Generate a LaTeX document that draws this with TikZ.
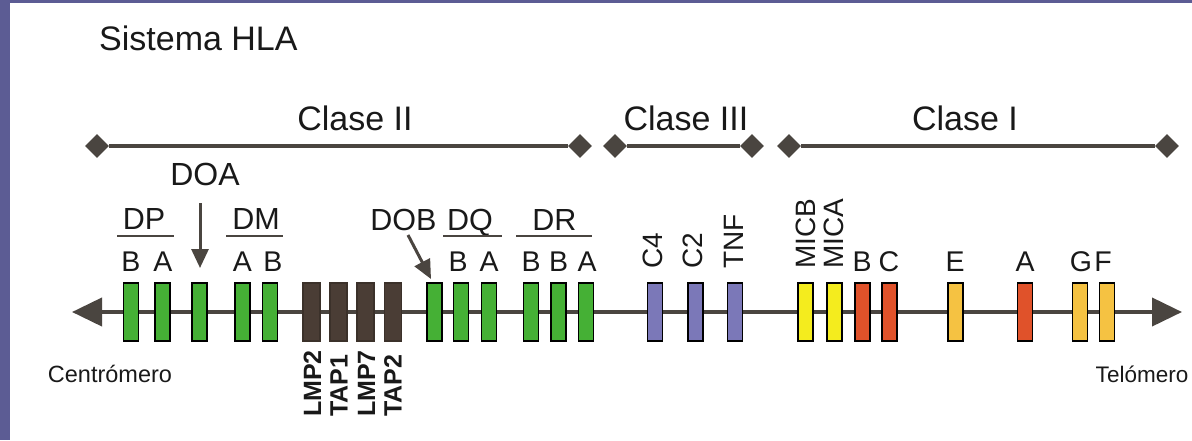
\documentclass[tikz,border=0pt]{standalone}
\usepackage{fontspec}
\setmainfont{Liberation Sans}
\usetikzlibrary{arrows.meta,shapes.geometric}
\definecolor{frameblue}{HTML}{5C5C94}
\definecolor{linegray}{HTML}{4A4540}
\definecolor{ggreen}{HTML}{45B035}
\definecolor{gdark}{HTML}{4A3D35}
\definecolor{gpurple}{HTML}{7B78B8}
\definecolor{gyellow}{HTML}{F4EC1E}
\definecolor{gred}{HTML}{E0522A}
\definecolor{gorange}{HTML}{F5C242}
\tikzset{
  gene/.style={draw=black, line width=1.2pt, minimum width=15pt, minimum height=58pt, inner sep=0pt},
  gg/.style={gene, fill=ggreen},
  gd/.style={gene, fill=gdark, minimum width=17pt, draw=gdark!80!black},
  gp/.style={gene, fill=gpurple},
  gy/.style={gene, fill=gyellow},
  gr/.style={gene, fill=gred},
  go/.style={gene, fill=gorange},
  lab/.style={inner sep=0pt, anchor=base, text=black!90, font=\fontsize{28.5}{30}\selectfont},
  grp/.style={inner sep=0pt, anchor=base, text=black!90, font=\fontsize{30.5}{32}\selectfont},
  big/.style={inner sep=0pt, anchor=base, text=black!90, font=\fontsize{34}{36}\selectfont},
  rlab/.style={inner sep=0pt, rotate=90, anchor=west, text=black!90, font=\fontsize{28}{30}\selectfont},
  blab/.style={inner sep=0pt, rotate=90, anchor=west, text=black!90, font=\bfseries\fontsize{25}{27}\selectfont},
  dia/.style={diamond, aspect=1, minimum width=24pt, minimum height=24pt, inner sep=0pt, fill=linegray},
  bracket/.style={line width=4pt, draw=linegray},
  uline/.style={line width=2.5pt, draw=linegray},
  ptr/.style={line width=3pt, draw=linegray, -{Triangle[length=19pt,width=17pt,fill=linegray]}},
  chrom/.style={line width=4pt, draw=linegray, {Triangle[length=30pt,width=28pt,fill=linegray]}-{Triangle[length=30pt,width=28pt,fill=linegray]}}
}
\begin{document}
\begin{tikzpicture}[x=1pt,y=-1pt]
% background and frame
\fill[white] (0,0) rectangle (1192,440);
\fill[frameblue] (0,0) rectangle (10,440);
\fill[frameblue] (0,0) rectangle (1192,3);
\useasboundingbox (0,0) rectangle (1192,440);

% title
\node[big, anchor=base west] (title) at (99,50) {Sistema HLA};

% class brackets
\node[big] (c2) at (355,130) {Clase II};
\node[big] (c3) at (686,130) {Clase III};
\node[big] (c1) at (965,130) {Clase I};
\node[dia] (c2l) at (97,146) {};
\node[dia] (c2r) at (580,146) {};
\node[dia] (c3l) at (615,146) {};
\node[dia] (c3r) at (752,146) {};
\node[dia] (c1l) at (789,146) {};
\node[dia] (c1r) at (1167,146) {};
\draw[bracket] (c2l) -- (c2r);
\draw[bracket] (c3l) -- (c3r);
\draw[bracket] (c1l) -- (c1r);

% chromosome
\coordinate (cen) at (72,312);
\coordinate (tel) at (1182,312);
\draw[chrom] (cen) -- (tel);

% genes
\node[gg] (g1) at (131,312) {};
\node[gg] (g2) at (162.5,312) {};
\node[gg] (g3) at (199.5,312) {};
\node[gg] (g4) at (242.5,312) {};
\node[gg] (g5) at (270,312) {};
\node[gd] (g6) at (311.5,312) {};
\node[gd] (g7) at (338.5,312) {};
\node[gd] (g8) at (365.5,312) {};
\node[gd] (g9) at (393,312) {};
\node[gg] (g10) at (434.5,312) {};
\node[gg] (g11) at (461,312) {};
\node[gg] (g12) at (489,312) {};
\node[gg] (g13) at (531,312) {};
\node[gg] (g14) at (558.5,312) {};
\node[gg] (g15) at (586,312) {};
\node[gp] (g16) at (655,312) {};
\node[gp] (g17) at (695.5,312) {};
\node[gp] (g18) at (735,312) {};
\node[gy] (g19) at (805.5,312) {};
\node[gy] (g20) at (834.5,312) {};
\node[gr] (g21) at (862.5,312) {};
\node[gr] (g22) at (889.5,312) {};
\node[go] (g23) at (955.5,312) {};
\node[gr] (g24) at (1025,312) {};
\node[go] (g25) at (1080,312) {};
\node[go] (g26) at (1107,312) {};

% single-letter labels
\node[lab] (l1) at (131,271) {B};
\node[lab] (l2) at (163,271) {A};
\node[lab] (l4) at (242.5,271) {A};
\node[lab] (l5) at (273,271) {B};
\node[lab] (l11) at (458,271) {B};
\node[lab] (l12) at (489,271) {A};
\node[lab] (l13) at (531,271) {B};
\node[lab] (l14) at (558.5,271) {B};
\node[lab] (l15) at (587,271) {A};
\node[lab] (l21) at (862,271) {B};
\node[lab] (l22) at (889,271) {C};
\node[lab] (l23) at (955,271) {E};
\node[lab] (l24) at (1025,271) {A};
\node[lab] (l25) at (1081,271) {G};
\node[lab] (l26) at (1103,271) {F};

% group labels
\node[grp] (dp) at (144,229) {DP};
\node[grp] (dm) at (256,229) {DM};
\node[grp] (dob) at (403.5,230) {DOB};
\node[grp] (dq) at (470,230) {DQ};
\node[grp] (dr) at (554.5,230) {DR};
\node[grp, font=\fontsize{32}{34}\selectfont] (doa) at (205,185) {DOA};
\draw[uline] (117,236) -- (174,236);
\draw[uline] (226,236) -- (283,236);
\draw[uline] (443,236) -- (502,236);
\draw[uline] (516,236) -- (592,236);

% pointers
\coordinate (doaA) at (200,203);
\coordinate (doaB) at (200,268);
\draw[ptr] (doaA) -- (doaB);
\coordinate (dobA) at (408,235);
\coordinate (dobB) at (431,279);
\draw[ptr] (dobA) -- (dobB);

% rotated labels (top)
\node[rlab] (r16) at (652.5,269) {C4};
\node[rlab] (r17) at (692.5,269) {C2};
\node[rlab] (r18) at (734,269) {TNF};
\node[rlab] (r19) at (806,269) {MICB};
\node[rlab] (r20) at (834,269) {MICA};

% rotated labels (bottom)
\node[blab] (b6) at (312.5,417) {LMP2};
\node[blab] (b7) at (339,417) {TAP1};
\node[blab] (b8) at (366.5,417) {LMP7};
\node[blab] (b9) at (393,417) {TAP2};

% ends
\node[inner sep=0pt, anchor=base, text=black!90, font=\fontsize{23.5}{25}\selectfont] (centr) at (110,382) {Centrómero};
\node[inner sep=0pt, anchor=base, text=black!90, font=\fontsize{22.5}{24}\selectfont] (telo) at (1142,382) {Telómero};
\end{tikzpicture}
\end{document}
